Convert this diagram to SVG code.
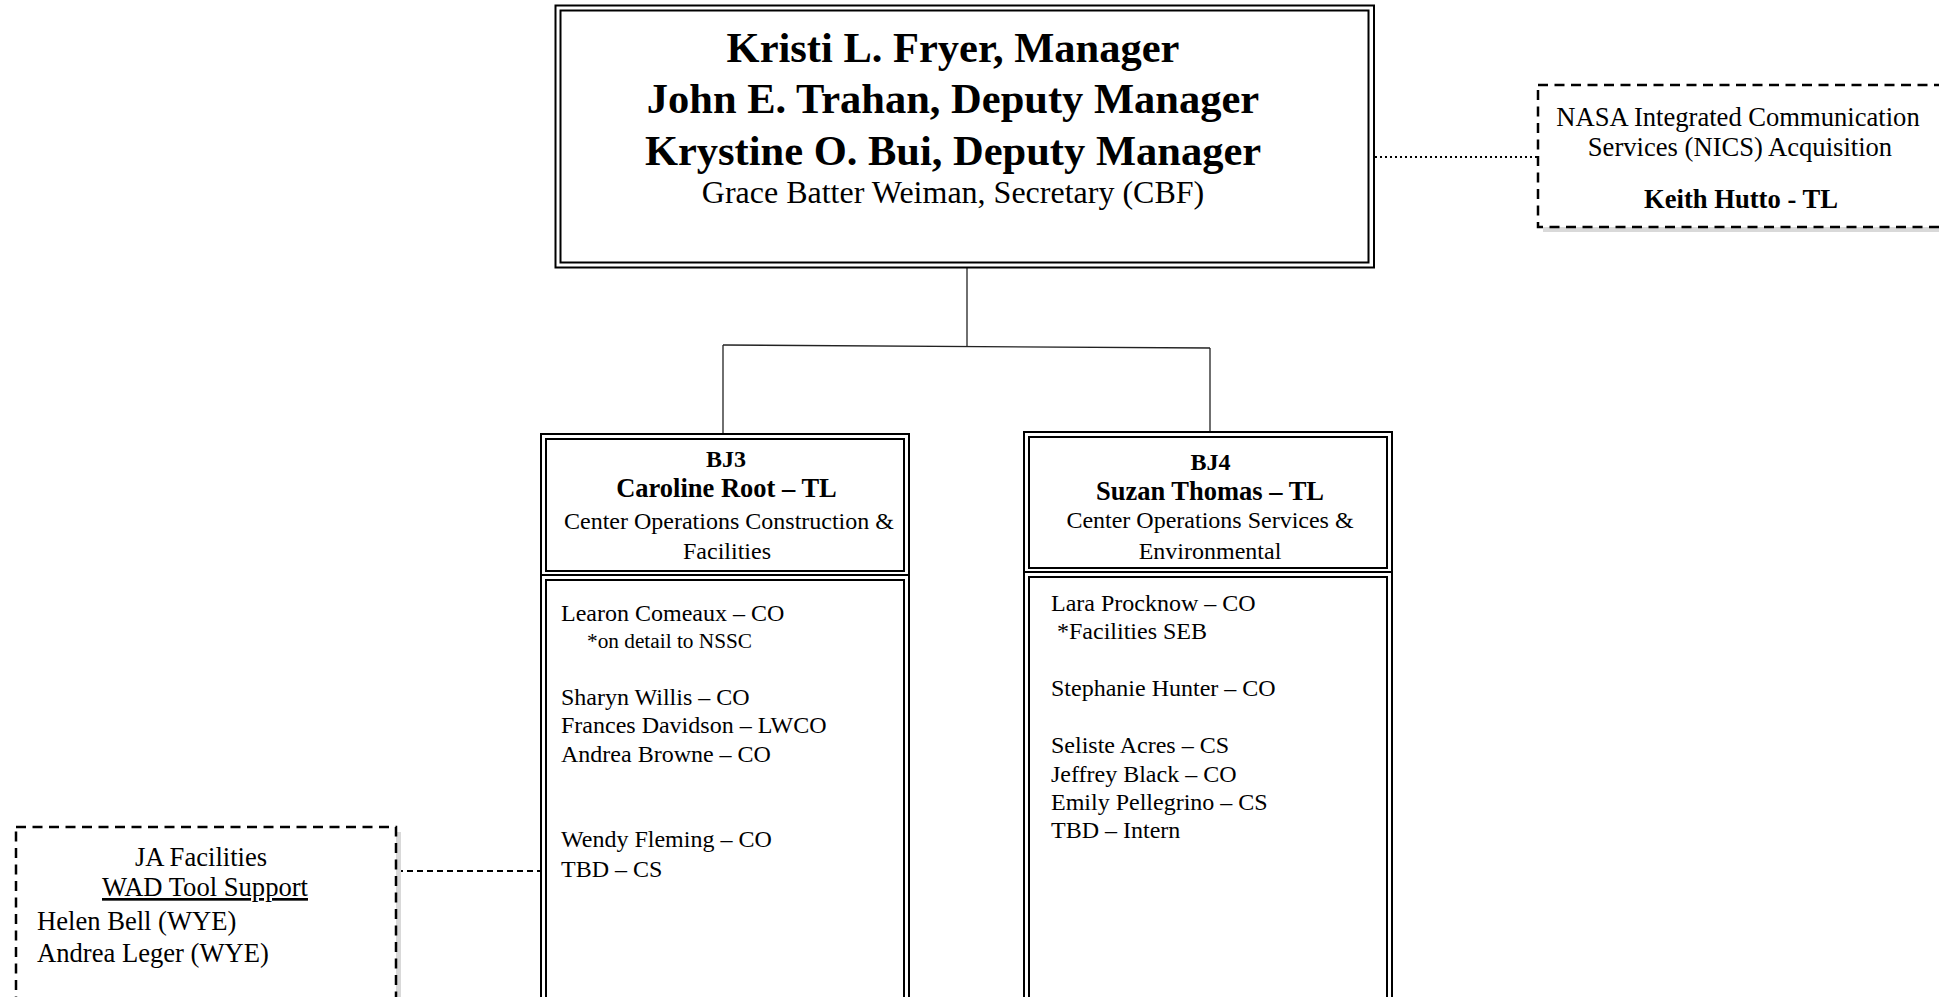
<svg xmlns="http://www.w3.org/2000/svg" width="1939" height="997" viewBox="0 0 1939 997">
<style>
text{font-family:"Liberation Serif","Times New Roman",serif;fill:#000}
.b{font-weight:bold}
.title{font-size:42.5px;font-weight:bold}
.sec{font-size:32px}
.hd{font-size:26.5px;font-weight:bold}
.code{font-size:24px;font-weight:bold}
.sub{font-size:24px}
.st{font-size:24px}
.note{font-size:21.3px}
.box{fill:none;stroke:#000;stroke-width:2}
.dash{fill:#fff;stroke:#000;stroke-width:2.5;stroke-dasharray:10 6.5}
.shadow{fill:#d9d9d9;stroke:none}
.conn{fill:none;stroke:#222;stroke-width:1.3}
.dot{fill:none;stroke:#000;stroke-width:2;stroke-dasharray:2 3}
.dl{fill:none;stroke:#000;stroke-width:1.8;stroke-dasharray:6 4}
.c{text-anchor:middle}
</style>
<rect width="1939" height="997" fill="#fff"/>
<g id="connectors">
<polyline class="conn" points="967,268 967,346"/>
<polyline class="conn" points="723,345 1210,348"/>
<polyline class="conn" points="723,345 723,434"/>
<polyline class="conn" points="1210,348 1210,432"/>
<line class="dot" x1="1375" y1="157" x2="1538" y2="157"/>
<line class="dl" x1="397" y1="871" x2="540" y2="871"/>
</g>
<g id="manager">
<rect class="box" x="555.5" y="5.5" width="818.5" height="262"/>
<rect class="box" x="560.5" y="10.5" width="808" height="252"/>
<text class="title c" x="953" y="62">Kristi L. Fryer, Manager</text>
<text class="title c" x="953" y="113">John E. Trahan, Deputy Manager</text>
<text class="title c" x="953" y="164.5">Krystine O. Bui, Deputy Manager</text>
<text class="sec c" x="953" y="203">Grace Batter Weiman, Secretary (CBF)</text>
</g>
<g id="nics">
<rect class="shadow" x="1543" y="90" width="400" height="142"/>
<rect class="dash" x="1538" y="85" width="410" height="142"/>
<text class="c" font-size="26.6" x="1738" y="126">NASA Integrated Communication</text>
<text class="c" font-size="26.6" x="1740" y="156">Services (NICS) Acquisition</text>
<text class="c b" font-size="26.6" x="1741" y="208">Keith Hutto - TL</text>
</g>
<g id="ja">
<rect class="shadow" x="21" y="832" width="380" height="180"/>
<rect class="dash" x="16" y="827" width="380" height="180"/>
<text class="c" font-size="26.6" x="201" y="866">JA Facilities</text>
<text class="c" font-size="26.6" x="205" y="896" text-decoration="underline">WAD Tool Support</text>
<text font-size="26.6" x="37" y="930">Helen Bell (WYE)</text>
<text font-size="26.6" x="37" y="962">Andrea Leger (WYE)</text>
</g>
<g id="bj3">
<rect class="box" x="541" y="434" width="368" height="141"/>
<rect class="box" x="546" y="439" width="358" height="132"/>
<rect class="box" x="541" y="575" width="368" height="440"/>
<rect class="box" x="546" y="580" width="358" height="430"/>
<text class="code c" x="726" y="467">BJ3</text>
<text class="hd c" x="726.5" y="497">Caroline Root – TL</text>
<text class="sub c" x="729" y="529">Center Operations Construction &amp;</text>
<text class="sub c" x="727" y="559">Facilities</text>
<text class="st" x="561" y="621">Learon Comeaux – CO</text>
<text class="note" x="587" y="648">*on detail to NSSC</text>
<text class="st" x="561" y="705">Sharyn Willis – CO</text>
<text class="st" x="561" y="733">Frances Davidson – LWCO</text>
<text class="st" x="561" y="762">Andrea Browne – CO</text>
<text class="st" x="561" y="847">Wendy Fleming – CO</text>
<text class="st" x="561" y="877">TBD – CS</text>
</g>
<g id="bj4">
<rect class="box" x="1024" y="432" width="368" height="140"/>
<rect class="box" x="1029" y="437" width="358" height="131"/>
<rect class="box" x="1024" y="572" width="368" height="440"/>
<rect class="box" x="1029" y="577" width="358" height="430"/>
<text class="code c" x="1210.5" y="470">BJ4</text>
<text class="hd c" x="1210" y="499.5">Suzan Thomas – TL</text>
<text class="sub c" x="1210" y="528">Center Operations Services &amp;</text>
<text class="sub c" x="1210" y="559">Environmental</text>
<text class="st" x="1051" y="611">Lara Procknow – CO</text>
<text class="st" x="1057" y="639">*Facilities SEB</text>
<text class="st" x="1051" y="696">Stephanie Hunter – CO</text>
<text class="st" x="1051" y="753">Seliste Acres – CS</text>
<text class="st" x="1051" y="781.5">Jeffrey Black – CO</text>
<text class="st" x="1051" y="810">Emily Pellegrino – CS</text>
<text class="st" x="1051" y="838">TBD – Intern</text>
</g>
</svg>
